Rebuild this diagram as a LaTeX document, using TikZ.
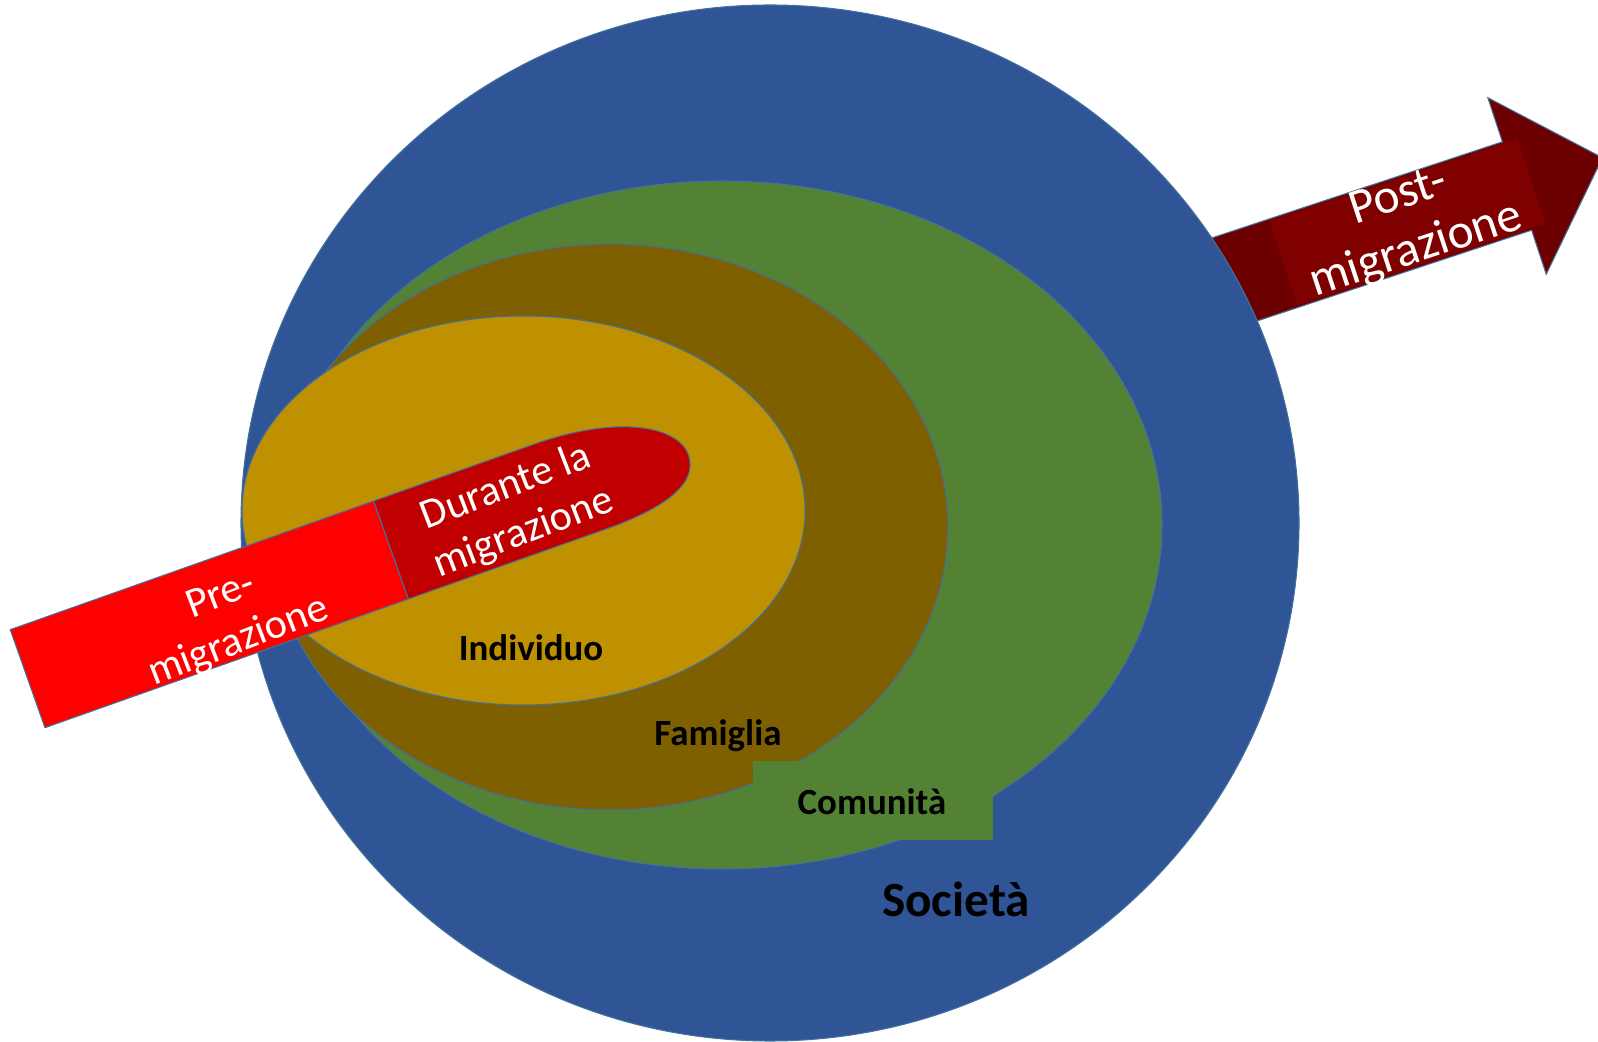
\documentclass[tikz,border=0pt]{standalone}
\usepackage{fontspec}
\setmainfont{Carlito}
\usepackage{tikz}
\definecolor{societa}{HTML}{2F5597}
\definecolor{comunita}{HTML}{548235}
\definecolor{famiglia}{HTML}{7F6000}
\definecolor{individuo}{HTML}{BF9000}
\definecolor{bordo}{HTML}{41719C}
\definecolor{pre}{HTML}{FF0000}
\definecolor{durante}{HTML}{C00000}
\definecolor{post}{HTML}{800000}
\definecolor{postscuro}{HTML}{6C0000}
\def\societacircle{(770,518) ellipse (529 and 518)}
\def\comunitacircle{(722,516) ellipse (440 and 344)}
\def\famigliacircle{(609,514) ellipse (339 and 283)}
\def\individuocircle{(523.5,530.5) ellipse (281.5 and 194.5)}

\begin{document}
\begin{tikzpicture}[x=0.02cm,y=0.02cm,
		livello/.style={draw=bordo,line width=0.6pt},
		etichetta/.style={font=\bfseries\fontsize{21}{25}\selectfont,inner sep=0pt},
		fase/.style={text=white,align=center,inner sep=0pt,font=\fontsize{24}{28}\selectfont,rotate=21}]
			\useasboundingbox (0,0) rectangle (1598,1041);
			\begin{scope}[shift={(1517,855)},rotate=18.3]
				\filldraw[livello,fill=postscuro] (-340,-46.5) -- (0,-46.5) -- (0,-93) -- (90,0) -- (0,93) -- (0,46.5) -- (-340,46.5) -- cycle;
				\fill[post] (-246,-44.5) rectangle (15,44.5);
				\node[fase,rotate=-2.7,font=\fontsize{28}{32}\selectfont] (post) at (-116,-2) {Post-\\migrazione};
			\end{scope}
			\filldraw[livello,fill=societa] \societacircle;
			\filldraw[livello,fill=comunita] \comunitacircle;
			\filldraw[livello,fill=famiglia] \famigliacircle;
			\filldraw[livello,fill=individuo] \individuocircle;
			\fill[comunita] (753,201) rectangle (993,280);
			\begin{scope}[shift={(391,491)},rotate=19.5]
				\filldraw[livello,fill=pre] (-385.5,-52) rectangle (0,52);
				\filldraw[livello,fill=durante] (0,52) -- (170,52) .. controls (260,52) and (315,20) .. (312,-12) .. controls (310,-35) and (285,-50) .. (220,-52) -- (0,-52) -- cycle;
				\node[fase] (pre) at (-175,-12) {Pre-\\migrazione};
				\node[fase] (durante) at (130,-4) {Durante la\\migrazione};
			\end{scope}
			\node[etichetta] (individuo) at (531,393) {Individuo};
			\node[etichetta] (famiglia) at (718,305) {Famiglia};
			\node[etichetta] (comunita) at (872,239) {Comunità};
			\node[etichetta,font=\bfseries\fontsize{28}{34}\selectfont] (societa) at (956,142) {Società};
		\end{tikzpicture}
\end{document}
